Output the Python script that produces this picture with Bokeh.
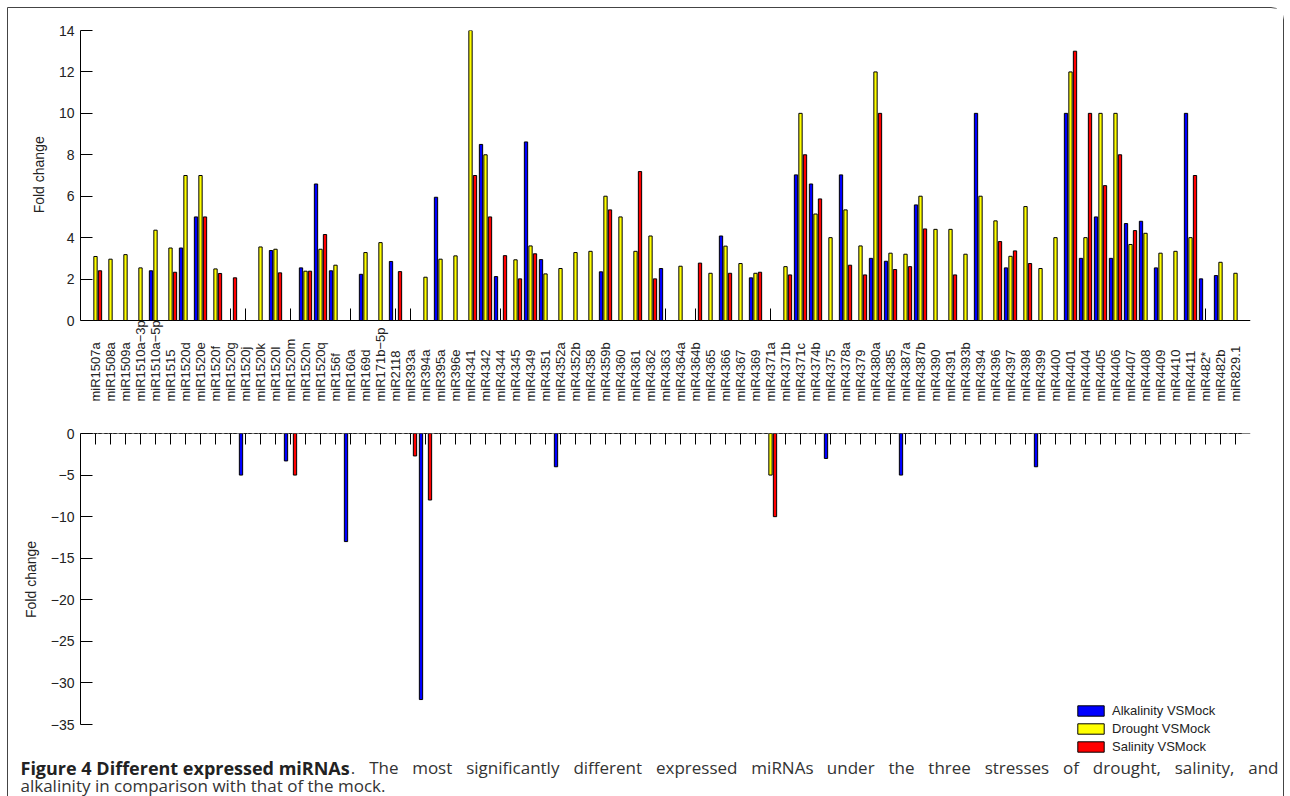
import numpy as np
from bokeh.plotting import figure
from bokeh.layouts import column
from bokeh.models import Range1d, FixedTicker, ColumnDataSource, Legend, LegendItem
from bokeh.core.properties import value
from bokeh.transform import dodge
from bokeh.embed import file_html
from bokeh.resources import INLINE

mirnas = ["miR1507a", "miR1508a", "miR1509a", "miR1510a\u22123p", "miR1510a\u22125p", "miR1515",
          "miR1520d", "miR1520e", "miR1520f", "miR1520g", "miR1520j", "miR1520k", "miR1520l",
          "miR1520m", "miR1520n", "miR1520q", "miR156f", "miR160a", "miR169d", "miR171b\u22125p",
          "miR2118", "miR393a", "miR394a", "miR395a", "miR396e", "miR4341", "miR4342", "miR4344",
          "miR4345", "miR4349", "miR4351", "miR4352a", "miR4352b", "miR4358", "miR4359b", "miR4360",
          "miR4361", "miR4362", "miR4363", "miR4364a", "miR4364b", "miR4365", "miR4366", "miR4367",
          "miR4369", "miR4371a", "miR4371b", "miR4371c", "miR4374b", "miR4375", "miR4378a",
          "miR4379", "miR4380a", "miR4385", "miR4387a", "miR4387b", "miR4390", "miR4391",
          "miR4393b", "miR4394", "miR4396", "miR4397", "miR4398", "miR4399", "miR4400", "miR4401",
          "miR4404", "miR4405", "miR4406", "miR4407", "miR4408", "miR4409", "miR4410", "miR4411",
          "miR482*", "miR482b", "miR829.1"]

alkalinity = [0, 0, 0, 0, 2.40, 0, 3.50, 5.0, 0, 0, -5.0, 0, 3.38,
              -3.3, 2.54, 6.59, 2.40, -13.0, 2.23, 0,
              2.85, 0, -32.0, 5.95, 0, 0, 8.5, 2.12,
              0, 8.62, 2.94, -4.0, 0, 0, 2.35, 0,
              0, 0, 2.51, 0, 0, 0, 4.08, 0,
              2.06, 0, 0, 7.03, 6.59, -3.0, 7.03,
              0, 3.0, 2.86, -5.0, 5.58, 0, 0,
              0, 10.0, 0, 2.54, 0, -4.0, 0, 10.0,
              3.0, 5.0, 3.0, 4.68, 4.79, 2.54, 0, 10.0,
              2.01, 2.17, 0]

drought = [3.09, 2.96, 3.18, 2.54, 4.36, 3.50, 7.0, 7.0, 2.49, 0, 0, 3.55, 3.44,
           0, 2.38, 3.44, 2.67, 0, 3.28, 3.76,
           0, 0, 2.09, 2.96, 3.12, 14.0, 8.0, 0,
           2.93, 3.60, 2.25, 2.51, 3.28, 3.34, 6.0, 5.0,
           3.34, 4.08, 0, 2.62, 0, 2.28, 3.59, 2.75,
           2.28, -5.0, 2.60, 10.0, 5.14, 4.0, 5.34,
           3.60, 12.0, 3.25, 3.20, 6.0, 4.40, 4.40,
           3.20, 6.0, 4.81, 3.10, 5.50, 2.51, 4.0, 12.0,
           4.0, 10.0, 10.0, 3.67, 4.21, 3.25, 3.34, 4.0,
           0, 2.81, 2.28]

salinity = [2.40, 0, 0, 0, 0, 2.33, 0, 5.0, 2.27, 2.06, 0, 0, 2.30,
            -5.0, 2.38, 4.15, 0, 0, 0, 0,
            2.36, -2.7, -8.0, 0, 0, 7.0, 5.0, 3.13,
            2.01, 3.22, 0, 0, 0, 0, 5.34, 0,
            7.19, 2.01, 0, 0, 2.77, 0, 2.28, 0,
            2.33, -10.0, 2.20, 8.0, 5.87, 0, 2.67,
            2.20, 10.0, 2.46, 2.60, 4.42, 0, 2.20,
            0, 0, 3.81, 3.36, 2.75, 0, 0, 13.0,
            10.0, 6.51, 8.0, 4.34, 0, 0, 0, 7.0,
            0, 0, 0]

series_names = ["Alkalinity VSMock", "Drought VSMock", "Salinity VSMock"]
series_keys = ["alk", "dro", "sal"]
series_colors = ["#0000FF", "#FFFF00", "#FF0000"]
offsets = [-0.3, 0.0, 0.3]

top_ticks = [0, 2, 4, 6, 8, 10, 12, 14]
bottom_ticks = [0, -5, -10, -15, -20, -25, -30, -35]

caption_bold = "Figure 4 Different expressed miRNAs"
caption_rest = ". The most significantly different expressed miRNAs under the three stresses of drought, salinity, and"
caption_line2 = "alkalinity in comparison with that of the mock."

pos = np.arange(1, len(mirnas) + 1)
data = dict(pos=pos, label=mirnas)
for key, vals in zip(series_keys, (alkalinity, drought, salinity)):
    v = np.array(vals, dtype=float)
    data[key + "_up"] = np.clip(v, 0, None)
    data[key + "_dn"] = np.clip(v, None, 0)
src = ColumnDataSource(data)

FONT = "Liberation Sans"
W = 1275
FRAME_W = 1170
NB = "\u00a0"
xr = Range1d(0, len(mirnas) + 1)

# pixel scale of the two value axes
TOP_FRAME_H, TOP_AXIS_PX = 382, 290      # frame height, pixels for 0..14
BOT_FRAME_H, BOT_AXIS_PX = 323, 291      # frame height, pixels for 0..-35
top_unit = TOP_AXIS_PX / 14.0
bot_unit = BOT_AXIS_PX / 35.0


def base_style(p, label_pad):
    p.outline_line_color = None
    p.grid.visible = False
    for ax in p.yaxis:
        ax.axis_line_color = "black"
        ax.major_tick_line_color = "black"
        ax.major_tick_in = 12
        ax.major_tick_out = 0
        ax.minor_tick_line_color = None
        ax.major_label_text_font = FONT
        ax.major_label_text_font_size = "14px"
        ax.major_label_text_color = "#222222"
        ax.major_label_standoff = 6
        ax.axis_label = NB * label_pad + "Fold change"
        ax.axis_label_text_font = FONT
        ax.axis_label_text_font_size = "14px"
        ax.axis_label_text_font_style = "normal"
        ax.axis_label_text_color = "#222222"
        ax.axis_label_standoff = 9
    for ax in p.xaxis:
        ax.ticker = FixedTicker(ticks=list(pos))
        ax.axis_line_color = "black"
        ax.major_tick_line_color = "black"
        ax.major_tick_out = 0
        ax.minor_tick_line_color = None
        ax.major_label_text_font_size = "1px"
        ax.major_label_text_color = None
        ax.major_label_standoff = 0
        ax.level = "underlay"


# ---------------- top chart (with category labels below the zero line) ----------------
top = figure(frame_width=FRAME_W, frame_height=TOP_FRAME_H, x_range=xr,
             y_range=Range1d(14 - TOP_FRAME_H / top_unit, 14),
             output_backend="svg", toolbar_location=None,
             min_border_left=72, min_border_right=33, min_border_top=22, min_border_bottom=0)
base_style(top, 24)
top.yaxis.ticker = FixedTicker(ticks=top_ticks)
top.yaxis.bounds = (0, 14)
top.xaxis.fixed_location = 0
top.xaxis.major_tick_in = 12

for key, color, off in zip(series_keys, series_colors, offsets):
    top.vbar(x=dodge("pos", off, range=xr), top=key + "_up", bottom=0, width=0.22,
             fill_color=color, line_color="black", line_width=1, source=src)

top.text(x="pos", y=-81 / top_unit, text="label", angle=np.pi / 2, text_align="left",
         text_baseline="middle", text_font=value(FONT), text_font_size="13px",
         text_color="#222222", source=src)

# ---------------- bottom chart ----------------
bot = figure(frame_width=FRAME_W, frame_height=BOT_FRAME_H, x_range=xr,
             y_range=Range1d(-BOT_FRAME_H / bot_unit, 0),
             x_axis_location="above", output_backend="svg", toolbar_location=None,
             min_border_left=72, min_border_right=33, min_border_top=21, min_border_bottom=0)
base_style(bot, 8)
bot.yaxis.ticker = FixedTicker(ticks=bottom_ticks)
bot.yaxis.bounds = (-35, 0)
bot.yaxis.major_label_overrides = {t: (str(t).replace("-", "\u2212")) for t in bottom_ticks}
bot.xaxis.major_tick_in = 11

items = []
for key, color, off, name in zip(series_keys, series_colors, offsets, series_names):
    r = bot.vbar(x=dodge("pos", off, range=xr), top=0, bottom=key + "_dn", width=0.22,
                 fill_color=color, line_color="black", line_width=1, source=src)
    items.append(LegendItem(label=name, renderers=[r]))

legend = Legend(items=items, location=(994, 2), glyph_width=33, glyph_height=13,
                label_height=13, spacing=3, padding=0, margin=0, label_standoff=5,
                label_text_font=FONT, label_text_font_size="13px", label_text_color="#222222",
                border_line_alpha=0, background_fill_alpha=0)
bot.add_layout(legend)

charts = column(top, bot)

# ---------------- caption (line 1 justified word by word) ----------------
CAP_PX = 17
BOLD_PX = 18
OPEN_SANS_W = {" ": 260, ".": 266, ",": 246, "a": 556, "b": 613, "c": 476, "d": 613, "e": 561,
               "f": 339, "g": 548, "h": 614, "i": 253, "l": 253, "m": 930, "n": 614, "o": 604,
               "p": 613, "r": 408, "s": 477, "t": 353, "u": 614, "v": 504, "w": 781, "x": 524,
               "y": 504, "A": 633, "N": 722, "R": 612, "T": 537}


def est_width(word):
    return sum(OPEN_SANS_W.get(ch, 560) for ch in word) * CAP_PX / 1000.0


cap = figure(width=W, height=40, x_range=Range1d(0, W), y_range=Range1d(0, 40),
             x_axis_type=None, y_axis_type=None, output_backend="svg", toolbar_location=None,
             min_border=0)
cap.outline_line_color = None
cap.grid.visible = False
cap.text(x=[12], y=[29], text=[caption_bold],
         text_font=value("Open Sans"), text_font_style="bold", text_font_size=f"{BOLD_PX}px",
         text_baseline="middle", text_color="#222222")

words = caption_rest.split(" ")
start_x, end_x = 12 + 18.35 * BOLD_PX, 1270
widths = [est_width(w) for w in words]
gap = (end_x - start_x - sum(widths)) / (len(words) - 1)
xs, cur = [], start_x
for w in widths:
    xs.append(cur)
    cur += w + gap
aligns = ["left"] * (len(words) - 1) + ["right"]
xs[-1] = end_x
cap.text(x=xs, y=[29] * len(words), text=words, text_align=aligns,
         text_font=value("Open Sans"), text_font_size=f"{CAP_PX}px",
         text_baseline="middle", text_color="#333333")
cap.text(x=[12], y=[11], text=[caption_line2],
         text_font=value("Open Sans"), text_font_size=f"{CAP_PX}px",
         text_baseline="middle", text_color="#333333")

layout = column(charts, cap,
                styles={"margin-left": "8px", "margin-top": "8px",
                        "outline": "1px solid #444444", "border-top-right-radius": "12px"})

open("out.html", "w").write(file_html(layout, INLINE))
